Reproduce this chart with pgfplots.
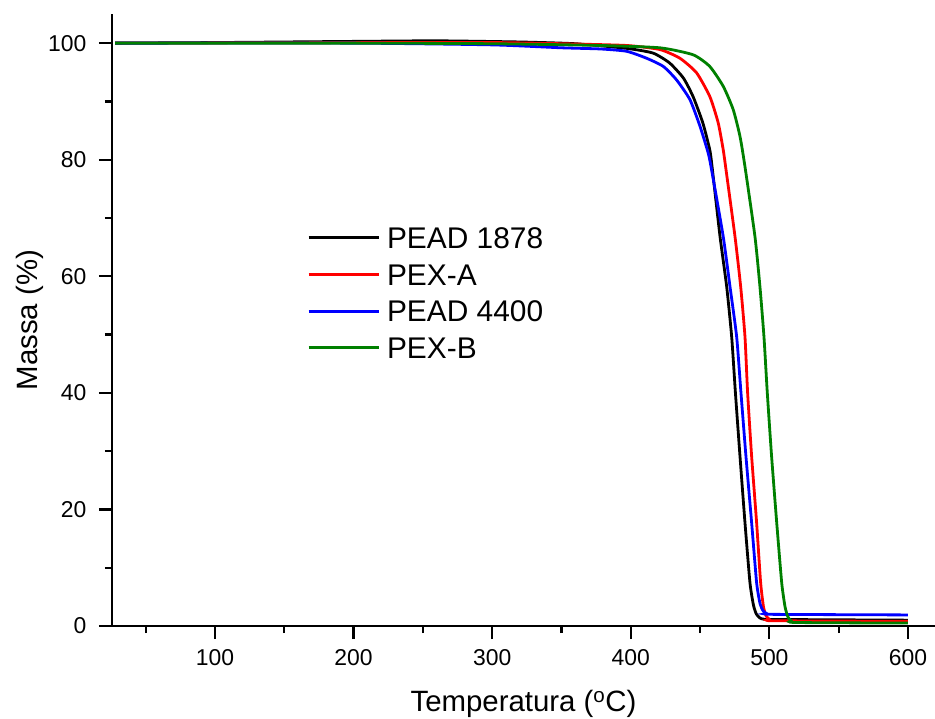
\documentclass[border=0pt]{standalone}
\usepackage{pgfplots}
\pgfplotsset{compat=1.18}
\usepackage{fontspec}
\setmainfont{Liberation Sans}
\definecolor{dgreen}{RGB}{0,128,0}
\begin{document}
\begin{tikzpicture}
\begin{axis}[
  scale only axis, width=823bp, height=612bp,
  xmin=25.7, xmax=619.5, ymin=0, ymax=105,
  axis lines*=left, axis line style={line width=2.2bp},
  xtick={100,200,...,600}, ytick={0,20,...,100},
  minor xtick={50,150,...,550}, minor ytick={10,30,...,90},
  tick align=outside, major tick length=13bp, minor tick length=7bp,
  every tick/.style={black, line width=2.2bp},
  /pgf/number format/assume math mode=true,
  ticklabel style={font=\fontsize{23}{27}\selectfont},
  xticklabel style={yshift=-7bp},
  yticklabel style={xshift=-9bp},
  xlabel={Temperatura (\textsuperscript{o}C)},
  ylabel={Massa (\%)},
  x label style={at={(axis description cs:0.5,-0.1405)}, anchor=base, font=\fontsize{29.5}{33}\selectfont},
  y label style={at={(axis description cs:-0.0996,0.5)}, anchor=center, font=\fontsize{29.5}{33}\selectfont},
  legend cell align=left,
  legend style={draw=none, fill=none, at={(0.237,0.652)}, anchor=north west,
    font=\fontsize{30}{34}\selectfont, row sep=15.5bp, column sep=7bp,
    inner sep=0pt, nodes={inner sep=0pt, text height=21.2bp, text depth=0bp}},
  legend image code/.code={\draw[#1] (0bp,0bp) -- (70bp,0bp);},
]
\addplot[black, line width=2.8bp, smooth, tension=0.35] coordinates {
(28,100.0) (100,100.1) (200,100.3) (260,100.4) (320,100.2) (360,99.9) (397,99.1)
(416,98.3) (428,96.6) (438,94.0) (445,90.8) (452,86.3) (457,81.7) (458.8,78.5)
(464.4,66.8) (469.2,58.2) (472.8,49.6) (475.5,40) (478.8,29.1) (482.4,17.7)
(486.0,7.4) (488.5,3.6) (490.5,2.1) (493,1.4) (497,1.15) (520,1.1) (600,1.0)};
\addlegendentry{PEAD 1878}
\addplot[red, line width=2.8bp, smooth, tension=0.35] coordinates {
(28,100) (200,100.1) (300,100.1) (350,99.9) (397,99.6) (421,98.9) (435.5,97.4)
(447.5,94.9) (457.1,90.8) (463.1,86.3) (466.7,81.7) (468.7,78.3) (475.2,66.8)
(479.3,58.2) (482.4,49.6) (484.3,40) (487.2,29.1) (490.8,17.7) (493.7,7.4)
(495.8,3.2) (497.5,1.8) (500,1.1) (503,0.9) (600,0.8)};
\addlegendentry{PEX-A}
\addplot[blue, line width=2.8bp, smooth, tension=0.35] coordinates {
(28,100) (200,100) (300,99.7) (350,99.2) (378,99.0) (397,98.6) (411.5,97.4)
(423.5,96.0) (433,93.7) (442.7,90.3) (450,85.7) (455.9,81.1) (458.5,78)
(466.7,66.8) (471.6,58.2) (476.4,49.6) (479.5,40) (483.1,29.1) (487.2,17.7)
(490.8,7.4) (493.3,3.8) (495.5,2.6) (498,2.15) (502,2.0) (600,1.9)};
\addlegendentry{PEAD 4400}
\addplot[dgreen, line width=2.8bp, smooth, tension=0.35] coordinates {
(28,100) (200,100) (300,99.9) (378,99.6) (421,99.2) (445,98.0) (457,96.0)
(466.7,92.6) (473.9,88.6) (478.8,84.0) (482.4,78.8) (489.6,66.8) (493.2,58.2)
(496.1,49.6) (498.5,40) (501.6,29.1) (505.3,17.7) (508.9,7.4) (511.3,3.3)
(513.3,1.6) (515.5,0.9) (519,0.6) (600,0.5)};
\addlegendentry{PEX-B}
\end{axis}
\pgfresetboundingbox
\path[use as bounding box] ([shift={(-112bp,-93bp)}]current axis.south west) rectangle ([shift={(0bp,14bp)}]current axis.north east);
\end{tikzpicture}
\end{document}
